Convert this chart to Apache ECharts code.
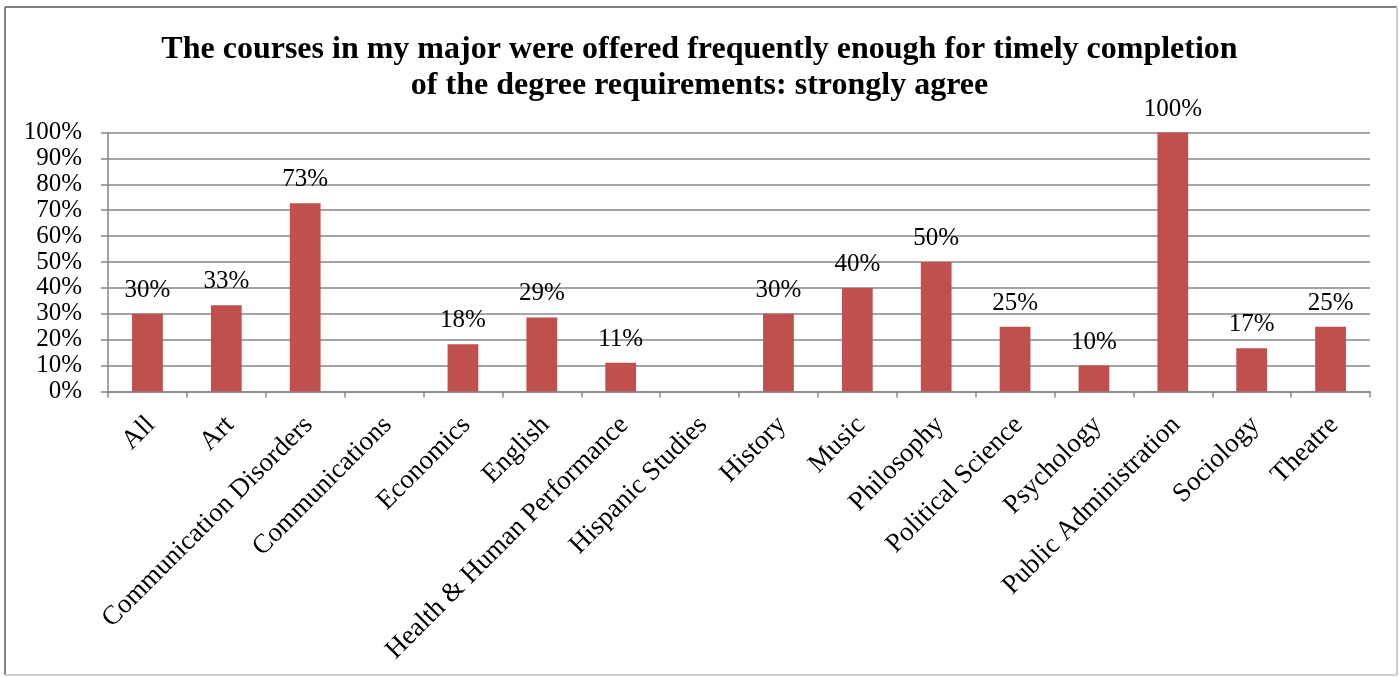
<!DOCTYPE html>
<html>
<head>
<meta charset="utf-8">
<script src="https://cdn.jsdelivr.net/npm/echarts@6/dist/echarts.min.js"></script>
<style>
html,body{margin:0;padding:0;background:#fff;}
#chart{width:1399px;height:677px;}
</style>
</head>
<body>
<div id="chart"></div>
<script>
var titleText = "The courses in my major were offered frequently enough for timely completion\nof the degree requirements: strongly agree";
var categories = ["All","Art","Communication Disorders","Communications","Economics","English","Health & Human Performance","Hispanic Studies","History","Music","Philosophy","Political Science","Psychology","Public Administration","Sociology","Theatre"];
var values = [30, 33.3, 72.7, null, 18.2, 28.6, 11.1, null, 30, 40, 50, 25, 10, 100, 16.7, 25];
var yMin = 0, yMax = 100, yStep = 10;

var FONT = "'Liberation Serif', 'Times New Roman', serif";
var chart = echarts.init(document.getElementById('chart'), null, {renderer: 'canvas'});
chart.setOption({
  backgroundColor: '#ffffff',
  animation: false,
  title: {
    text: titleText,
    left: 'center',
    top: 27,
    textStyle: {fontFamily: FONT, fontWeight: 'bold', fontSize: 32, lineHeight: 36, color: '#000'}
  },
  graphic: [
    {type: 'line', shape: {x1: 5, y1: 7, x2: 1397, y2: 7}, style: {stroke: '#808080', lineWidth: 2}},
    {type: 'line', shape: {x1: 5, y1: 7, x2: 5, y2: 675}, style: {stroke: '#808080', lineWidth: 2}},
    {type: 'line', shape: {x1: 1397, y1: 7, x2: 1397, y2: 675}, style: {stroke: '#cfcfcf', lineWidth: 2}},
    {type: 'line', shape: {x1: 5, y1: 675, x2: 1397, y2: 675}, style: {stroke: '#cfcfcf', lineWidth: 2}}
  ],
  grid: {left: 108, right: 29, top: 132.5, bottom: 285.5, containLabel: false},
  xAxis: {
    type: 'category',
    data: categories,
    axisLine: {lineStyle: {color: '#868686', width: 1.5}},
    axisTick: {show: true, length: 6, lineStyle: {color: '#868686', width: 1.5}},
    axisLabel: {interval: 0, rotate: 45, margin: 33, padding: [0, -5, 0, 0], fontFamily: FONT, fontSize: 27, color: '#000'},
    splitLine: {show: false}
  },
  yAxis: {
    type: 'value',
    min: yMin, max: yMax, interval: yStep,
    axisLine: {show: true, lineStyle: {color: '#868686', width: 1.5}},
    axisTick: {show: true, length: 7, lineStyle: {color: '#868686', width: 1.5}},
    axisLabel: {formatter: '{value}%', margin: 26, fontFamily: FONT, fontSize: 25, color: '#000'},
    splitLine: {show: true, lineStyle: {color: '#868686', width: 1.5}}
  },
  series: [{
    type: 'bar',
    data: values,
    barWidth: '39%',
    itemStyle: {color: '#C0504D'},
    label: {
      show: true, position: 'top', distance: 11,
      fontFamily: FONT, fontSize: 25, color: '#000',
      formatter: function (p) { return p.value == null ? '' : Math.round(p.value) + '%'; }
    }
  }]
});
</script>
</body>
</html>
